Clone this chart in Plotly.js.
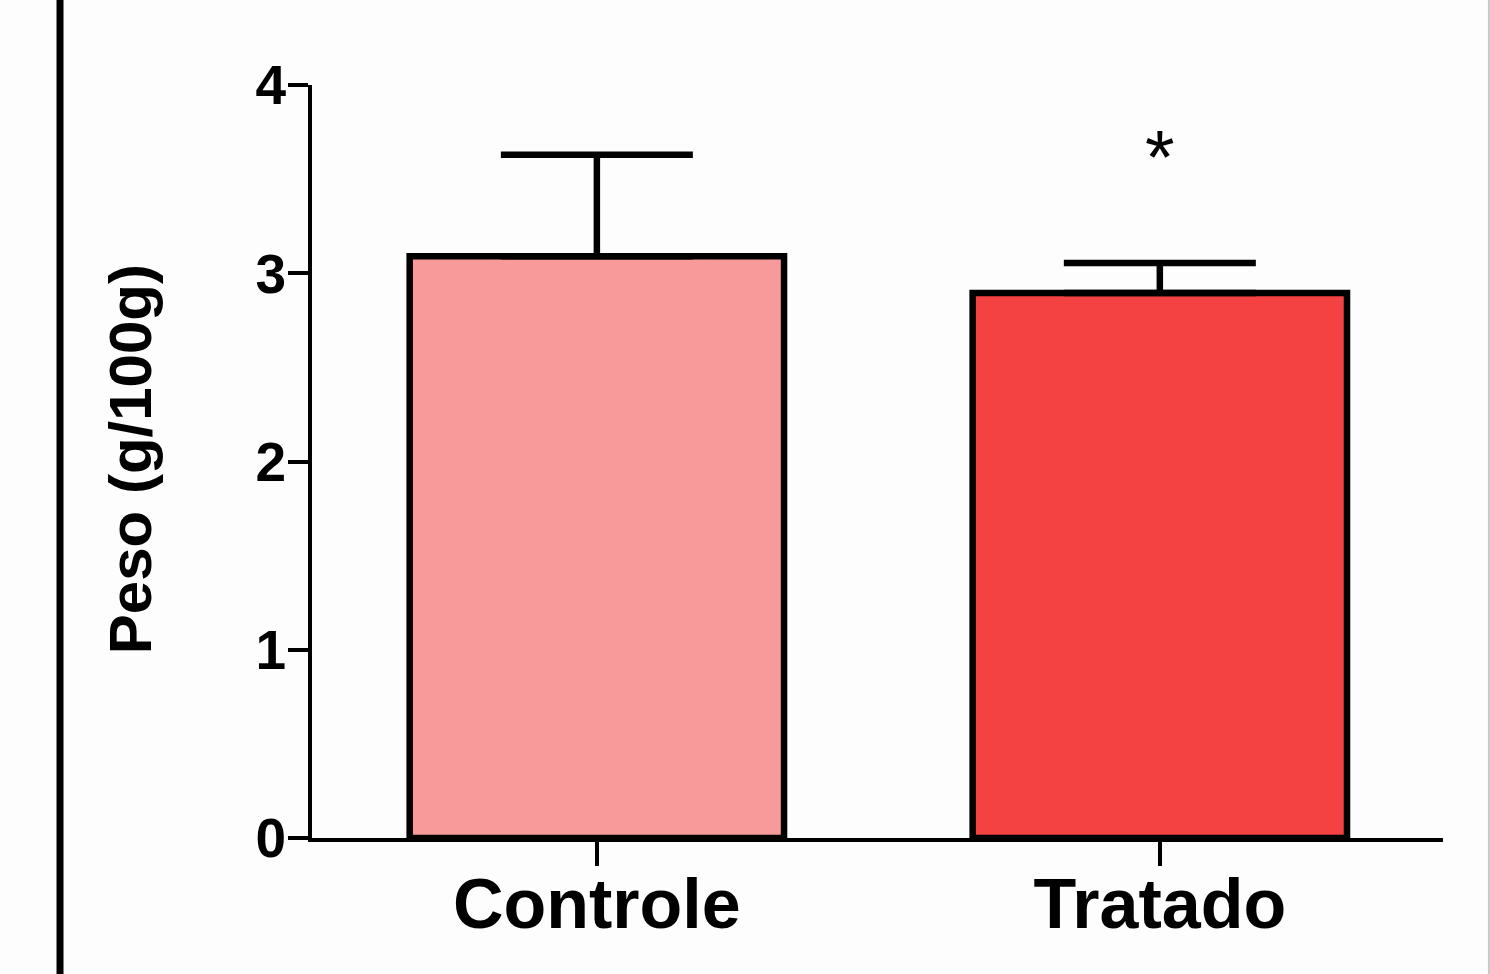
<!DOCTYPE html>
<html>
<head>
<meta charset="utf-8">
<script src="https://cdn.plot.ly/plotly-3.0.1.min.js"></script>
<style>html,body{margin:0;padding:0;background:#fdfdfd;}#chart{width:1490px;height:974px;}</style>
</head>
<body>
<div id="chart"></div>
<script>
const categories = ["Controle", "Tratado"];
const means = [3.09, 2.895];
const sem = [0.54, 0.16];
const barColors = ["#f99a9a", "#f44141"];
const yTicks = [0, 1, 2, 3, 4];
const yTitle = "Peso (g/100g)";
const significance = ["", "*"];
const sigY = [3.6, 3.62];

const trace = {
  type: "bar",
  x: [0, 1],
  y: means,
  width: 0.665,
  marker: {color: barColors, line: {color: "#000", width: 6.5}},
  error_y: {type: "data", array: sem, arrayminus: [0, 0], symmetric: false,
            color: "#000", thickness: 6.5, width: 96},
  hoverinfo: "none"
};

const annotations = [];
significance.forEach((s, i) => {
  if (s) annotations.push({x: i, y: sigY[i], xref: "x", yref: "y", text: s, showarrow: false,
    font: {family: "Liberation Sans", size: 76, color: "#000"}, yanchor: "middle"});
});
annotations.push({x: -0.161, y: 0.503, xref: "paper", yref: "paper", text: "<b>" + yTitle + "</b>",
  xanchor: "center", yanchor: "middle",
  textangle: -90, showarrow: false, font: {family: "Liberation Sans", size: 60, color: "#000"}});

const layout = {
  width: 1490, height: 974,
  paper_bgcolor: "#fdfdfd", plot_bgcolor: "#fdfdfd",
  margin: {l: 312, r: 47, t: 85, b: 136},
  showlegend: false,
  font: {family: "Liberation Sans", color: "#000"},
  xaxis: {
    range: [-0.506, 1.503], tickvals: [0, 1], ticktext: categories.map(c => "<b>" + c + "</b>"),
    showline: true, linecolor: "#000", linewidth: 4, ticks: "outside", ticklen: 24, tickwidth: 4,
    tickcolor: "#000", showgrid: false, zeroline: false, ticklabelstandoff: -22,
    tickfont: {family: "Liberation Sans", size: 70, color: "#000"}
  },
  yaxis: {
    range: [0, 4], tickvals: yTicks, ticktext: yTicks.map(v => "<b>" + v + "</b>"),
    showline: true, linecolor: "#000", linewidth: 4, ticks: "outside", ticklen: 20, tickwidth: 4,
    tickcolor: "#000", showgrid: false, zeroline: false, ticklabelstandoff: -9,
    tickfont: {family: "Liberation Sans", size: 55, color: "#000"}
  },
  annotations: annotations,
  shapes: [
    {type: "line", xref: "paper", yref: "paper", x0: -0.2228, x1: -0.2228, y0: -0.2, y1: 1.15,
     line: {color: "#000", width: 7}},
    {type: "line", xref: "paper", yref: "paper", x0: 1.0406, x1: 1.0406, y0: -0.2, y1: 1.15,
     line: {color: "#c8c8c8", width: 2}}
  ]
};

Plotly.newPlot("chart", [trace], layout, {displayModeBar: false, staticPlot: true});
</script>
</body>
</html>
